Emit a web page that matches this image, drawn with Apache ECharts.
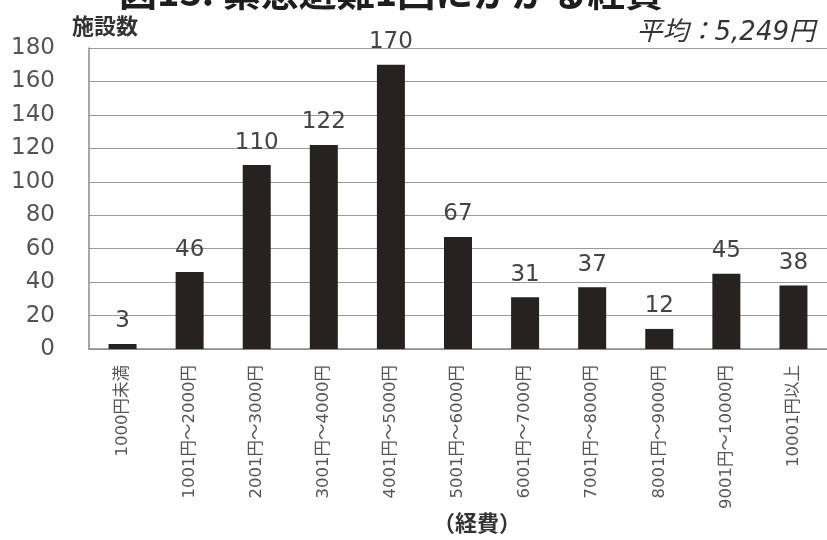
<!DOCTYPE html>
<html>
<head>
<meta charset="utf-8">
<script src="https://cdn.jsdelivr.net/npm/echarts@6/dist/echarts.min.js"></script>
<style>
  html, body { margin: 0; padding: 0; background: #ffffff; }
  #chart { width: 827px; height: 540px; }
</style>
</head>
<body>
<div id="chart"></div>
<script>
// Cost bands per evacuation (yen)
const categories = [
  '1000円未満', '1001円～2000円', '2001円～3000円', '3001円～4000円',
  '4001円～5000円', '5001円～6000円', '6001円～7000円', '7001円～8000円',
  '8001円～9000円', '9001円～10000円', '10001円以上'
];
// Number of facilities in each band
const facilities = [3, 46, 110, 122, 170, 67, 31, 37, 12, 45, 38];
// Value axis ticks
const yTicks = [0, 20, 40, 60, 80, 100, 120, 140, 160, 180];

const titleText = '図13. 緊急避難1回にかかる経費';
const yName = '施設数';
const xName = '（経費）';
const averageText = '平均：5,249円';

const latin = '"DejaVu Sans", "Noto Sans CJK JP", sans-serif';
const cjk = '"Noto Sans CJK JP", "DejaVu Sans", sans-serif';

const chart = echarts.init(document.getElementById('chart'), null, { renderer: 'canvas' });

chart.setOption({
  backgroundColor: '#ffffff',
  animation: false,
  title: [
    {
      text: titleText,
      left: 114,
      top: -32,
      textStyle: { fontFamily: cjk, fontSize: 38, fontWeight: 'bold', color: '#1e1e1e' }
    },
    {
      text: yName,
      left: 67,
      top: 10,
      textStyle: { fontFamily: cjk, fontSize: 22, fontWeight: 'bold', color: '#333333' }
    },
    {
      text: averageText,
      right: 7,
      top: 15,
      textStyle: { fontFamily: latin, fontSize: 26, fontStyle: 'italic', fontWeight: 'normal', color: '#333333' }
    },
    {
      text: xName,
      left: 428,
      top: 507,
      textStyle: { fontFamily: cjk, fontSize: 22, fontWeight: 'bold', color: '#333333' }
    }
  ],
  grid: { left: 89, top: 48, width: 748, height: 301, containLabel: false },
  xAxis: {
    type: 'category',
    data: categories,
    axisLine: { show: true, lineStyle: { color: '#8a8a8a', width: 1.5 } },
    axisTick: { show: false },
    axisLabel: {
      rotate: 90,
      interval: 0,
      margin: 16,
      fontFamily: latin,
      fontSize: 16.5,
      color: '#555555'
    }
  },
  yAxis: {
    type: 'value',
    min: yTicks[0],
    max: yTicks[yTicks.length - 1],
    interval: yTicks[1] - yTicks[0],
    axisLine: { show: true, lineStyle: { color: '#8a8a8a', width: 1.5 } },
    axisTick: { show: false },
    axisLabel: {
      margin: 34,
      fontFamily: latin,
      fontSize: 23,
      color: '#555555'
    },
    splitLine: { show: true, lineStyle: { color: '#9a9a9a', width: 1.2 } }
  },
  series: [
    {
      type: 'bar',
      data: facilities,
      barWidth: 28,
      itemStyle: { color: '#25221f' },
      label: {
        show: true,
        position: 'top',
        distance: 11,
        fontFamily: latin,
        fontSize: 23,
        color: '#444444'
      }
    }
  ]
});
</script>
</body>
</html>
